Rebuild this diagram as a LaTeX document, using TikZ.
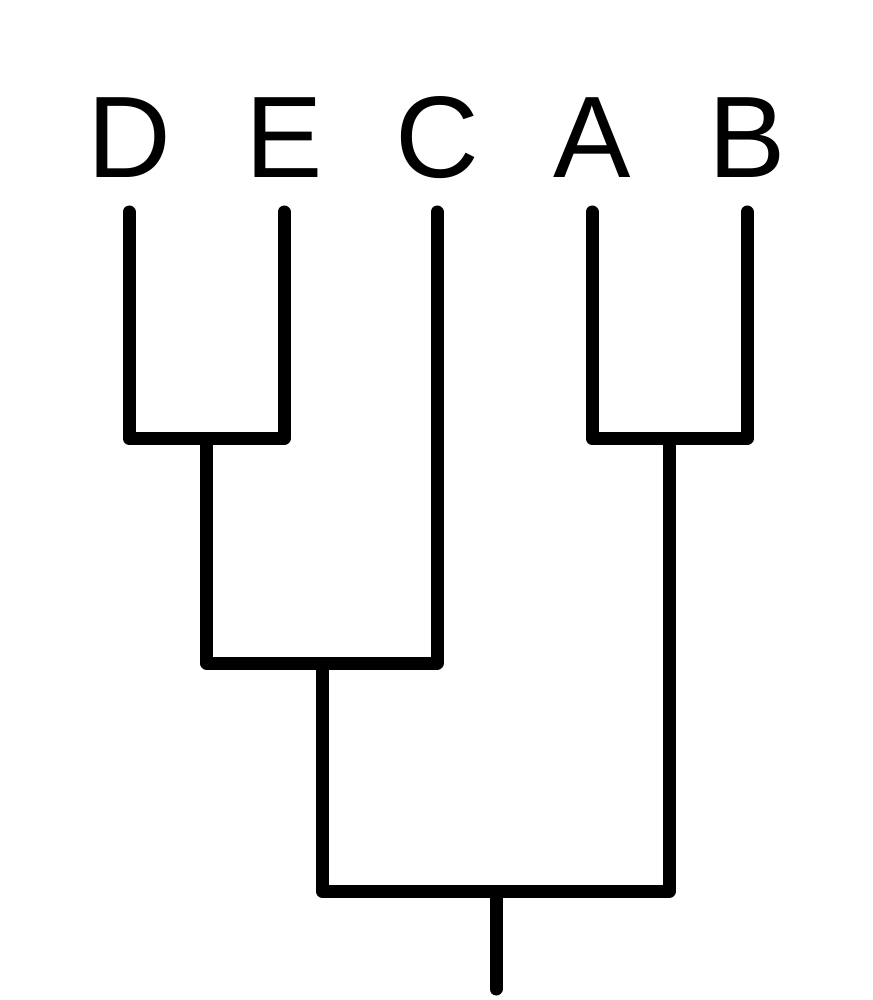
\documentclass[tikz,border=0pt]{standalone}
\usepackage{fontspec}
\setmainfont{Liberation Sans}
\begin{document}
\begin{tikzpicture}[x=1pt,y=-1pt,
  leaf/.style={font=\fontsize{116}{116}\selectfont, inner sep=0pt, anchor=base},
  branch/.style={line width=13pt, line cap=round, line join=round}]
\useasboundingbox (0,0) rectangle (872,1000);
\node[leaf] (D) at (129,178) {D};
\node[leaf] (E) at (284,178) {E};
\node[leaf] (C) at (437,178) {C};
\node[leaf] (A) at (592,178) {A};
\node[leaf] (B) at (747,178) {B};
\coordinate (d) at (129,212);
\coordinate (e) at (284,212);
\coordinate (c) at (437,212);
\coordinate (a) at (592,212);
\coordinate (b) at (747,212);
\coordinate (de) at (206.5,438.5);
\coordinate (ab) at (669.5,438.5);
\coordinate (dec) at (322,663);
\coordinate (root) at (496,891);
\coordinate (rootend) at (496,989);
\draw[branch] (d) -- (d |- de) -- (e |- de) -- (e);
\draw[branch] (a) -- (a |- ab) -- (b |- ab) -- (b);
\draw[branch] (c) -- (c |- dec) -- (de |- dec) -- ([yshift=-3pt]de);
\draw[branch] (ab) -- (ab |- root) -- (dec |- root) -- ([yshift=-3pt]dec);
\draw[branch] (rootend) -- ([yshift=-3pt]root);
\end{tikzpicture}
\end{document}
